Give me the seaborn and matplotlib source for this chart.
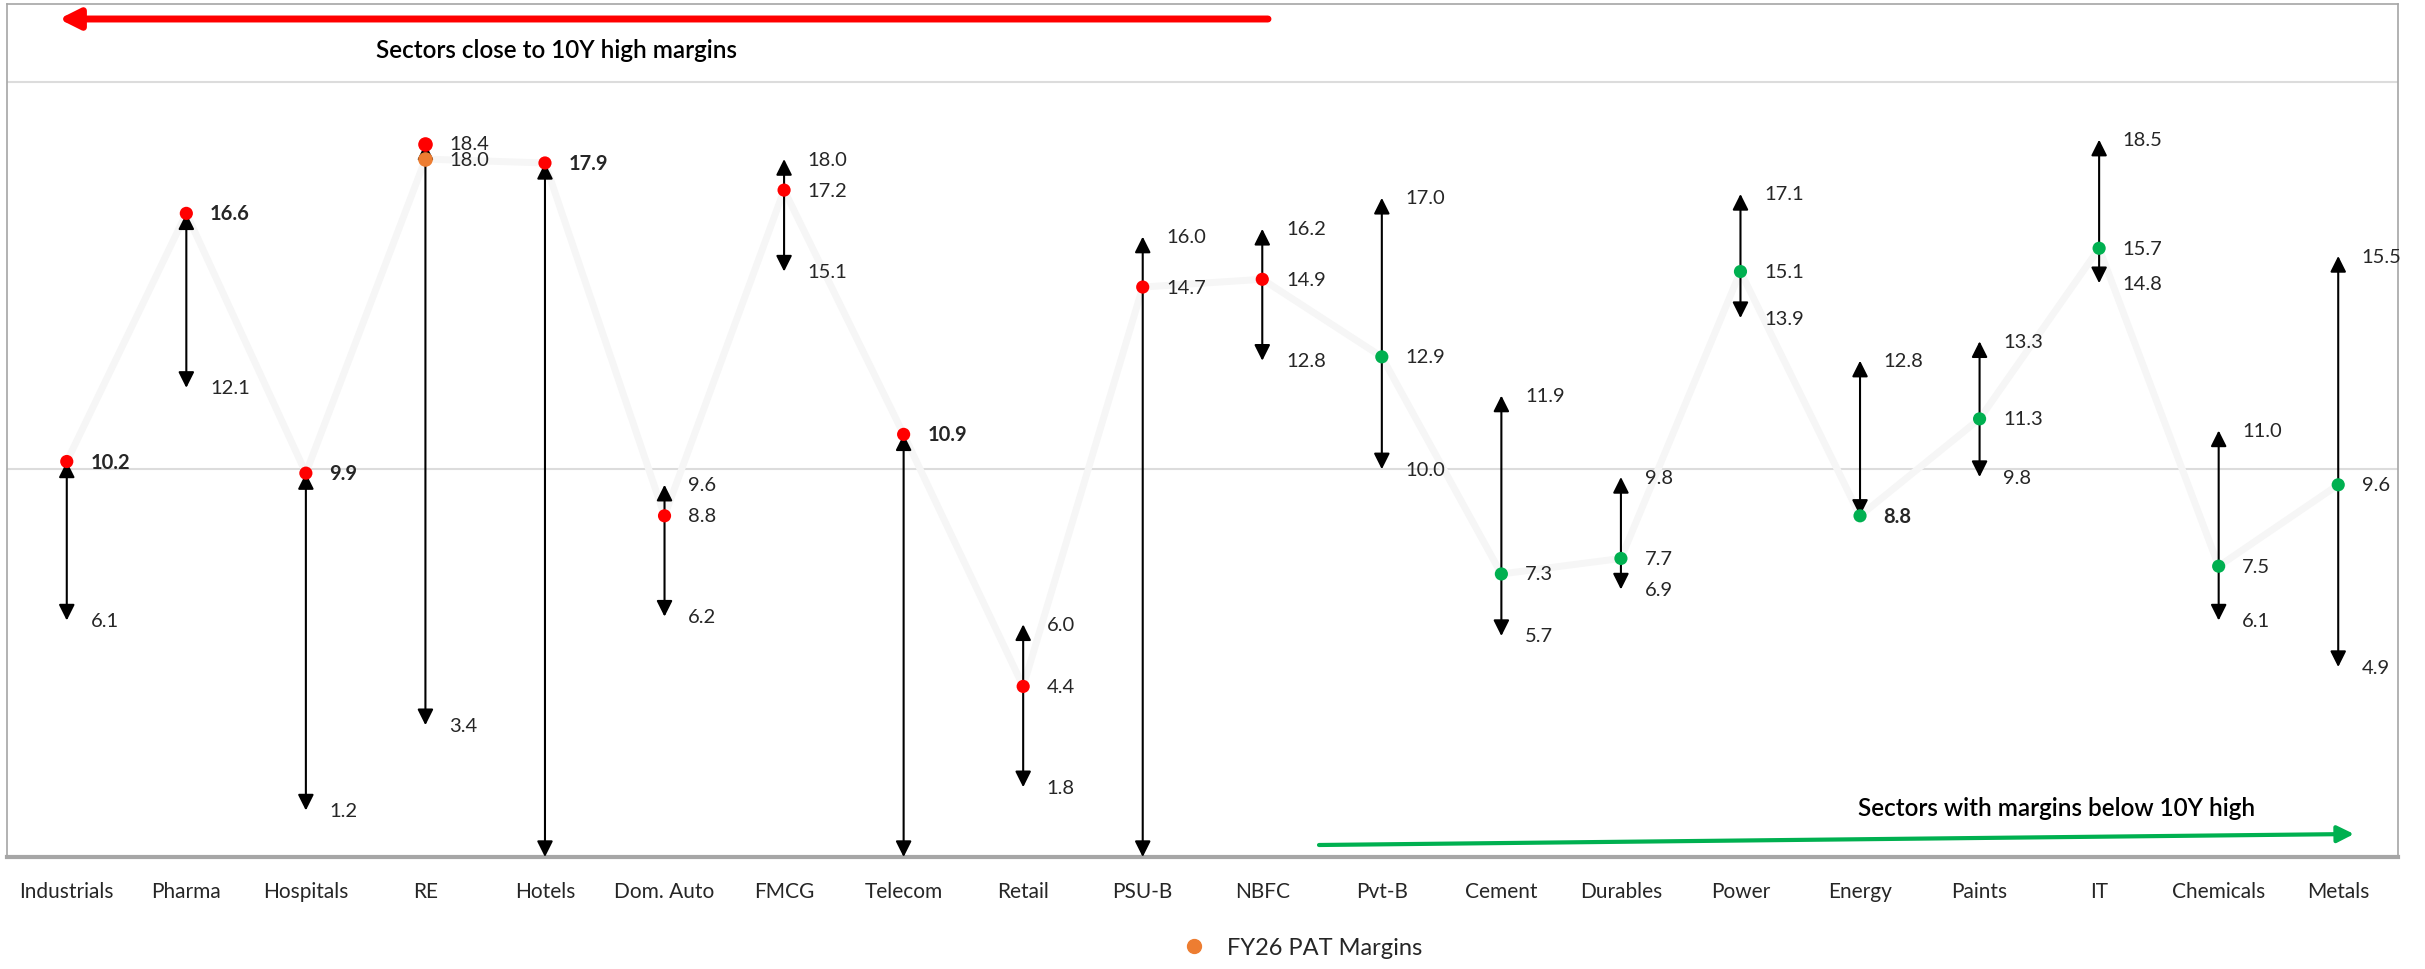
"""
Sector PAT margin ranges (10Y high / low) vs FY26 PAT margins.
"""

import numpy as np
import pandas as pd
import matplotlib.pyplot as plt
import seaborn as sns
from matplotlib.lines import Line2D

# Data
sectors = ["Industrials", "Pharma", "Hospitals", "RE", "Hotels", "Dom. Auto", "FMCG",
           "Telecom", "Retail", "PSU-B", "NBFC", "Pvt-B", "Cement", "Durables", "Power",
           "Energy", "Paints", "IT", "Chemicals", "Metals"]
high_10y = [10.2, 16.6, 9.9, 18.4, 17.9, 9.6, 18.0, 10.9, 6.0, 16.0,
            16.2, 17.0, 11.9, 9.8, 17.1, 12.8, 13.3, 18.5, 11.0, 15.5]
# 0 = range runs below the axis (no label shown)
low_10y = [6.1, 12.1, 1.2, 3.4, 0.0, 6.2, 15.1, 0.0, 1.8, 0.0,
           12.8, 10.0, 5.7, 6.9, 13.9, 8.8, 9.8, 14.8, 6.1, 4.9]
fy26 = [10.2, 16.6, 9.9, 18.0, 17.9, 8.8, 17.2, 10.9, 4.4, 14.7,
        14.9, 12.9, 7.3, 7.7, 15.1, 8.8, 11.3, 15.7, 7.5, 9.6]
n_close = 11  # first n sectors are close to their 10Y high

RED, GREEN, ORANGE = "#ff0000", "#00b050", "#ed7d31"
TXT = "#262626"

sns.set_theme(style="white")
plt.rcParams["font.family"] = ["Lato", "DejaVu Sans"]

df = pd.DataFrame({"sector": sectors, "high": high_10y, "low": low_10y, "fy26": fy26})
df["x"] = np.arange(len(df))
df["group"] = np.where(df["x"] < n_close, "close", "below")
re_idx = sectors.index("RE")

fig = plt.figure(figsize=(24.25, 9.7), dpi=100)
ax = fig.add_axes([7 / 2425, 112 / 970, (2398 - 7) / 2425, (858 - 5) / 970])

# faint connecting line through FY26 values
sns.lineplot(data=df, x="x", y="fy26", ax=ax, color="#f6f6f6", lw=5, zorder=1)

# 10Y high / low range arrows
for _, r in df.iterrows():
    ax.annotate("", xy=(r.x, r.high), xytext=(r.x, r.low),
                arrowprops=dict(arrowstyle="<|-|>", color="black", lw=1.5,
                                mutation_scale=24, shrinkA=0, shrinkB=0),
                zorder=3)

# FY26 dots
dots = df[df["x"] != re_idx]
sns.scatterplot(data=dots, x="x", y="fy26", hue="group",
                palette={"close": RED, "below": GREEN}, s=90, edgecolor="none",
                legend=False, ax=ax, zorder=4)
ax.scatter([re_idx], [high_10y[re_idx]], color=RED, s=90, zorder=4)
ax.scatter([re_idx], [fy26[re_idx]], color=ORANGE, s=90, zorder=4)

# data labels
def put_label(x, y, bold=False):
    ax.annotate(f"{y:.1f}", xy=(x, y), xytext=(17, 0), textcoords="offset points",
                ha="left", va="center", fontsize=14.5, color=TXT,
                fontweight="bold" if bold else "normal", zorder=5)

for _, r in df.iterrows():
    if r.fy26 != r.high:
        put_label(r.x, r.high)
    if r.low > 0 and r.fy26 != r.low:
        put_label(r.x, r.low)
    put_label(r.x, r.fy26, bold=(r.fy26 in (r.high, r.low)))

# axes styling
ax.set_xlim(-0.5, len(df) - 0.5)
ax.set_ylim(0, 22)
ax.set_yticks([0, 10, 20])
ax.yaxis.grid(True, color="#dcdcdc", lw=1.5)
ax.set_axisbelow(True)
ax.tick_params(axis="y", left=False, labelleft=False)
ax.set_xticks(df["x"])
ax.set_xticklabels(sectors, fontsize=15, color=TXT)
ax.set_xticks(np.arange(len(df) + 1) - 0.5, minor=True)
ax.tick_params(axis="x", which="major", length=0, pad=17)
ax.tick_params(axis="x", which="minor", length=7, width=1, color="#a6a6a6", direction="out")
ax.set_xlabel("")
ax.set_ylabel("")
for side in ["left", "top", "right"]:
    ax.spines[side].set_color("#a6a6a6")
    ax.spines[side].set_linewidth(1.2)
ax.spines["bottom"].set_color("#a6a6a6")
ax.spines["bottom"].set_linewidth(3)

# callouts
ax.annotate("", xy=(59, 950), xytext=(1268, 950), xycoords="figure pixels",
            arrowprops=dict(arrowstyle="-|>", color=RED, lw=5, mutation_scale=30,
                            shrinkA=0, shrinkB=0))
fig.text(556 / 2425, 919 / 970, "Sectors close to 10Y high margins", ha="center",
         va="center", fontsize=17.5, color="black", fontweight="semibold")
ax.annotate("", xy=(2354, 135), xytext=(1319, 124), xycoords="figure pixels",
            arrowprops=dict(arrowstyle="-|>", color=GREEN, lw=3, mutation_scale=25,
                            shrinkA=0, shrinkB=0))
fig.text(2057 / 2425, 161 / 970, "Sectors with margins below 10Y high", ha="center",
         va="center", fontsize=17.5, color="black", fontweight="semibold")

# legend
handle = Line2D([], [], marker="o", ls="none", color=ORANGE, markersize=10)
fig.legend([handle], ["FY26 PAT Margins"], loc="center", bbox_to_anchor=(1296 / 2425, 21 / 970),
           frameon=False, fontsize=17, handletextpad=0.4, labelcolor=TXT)

fig.savefig("out.png", dpi=100)
